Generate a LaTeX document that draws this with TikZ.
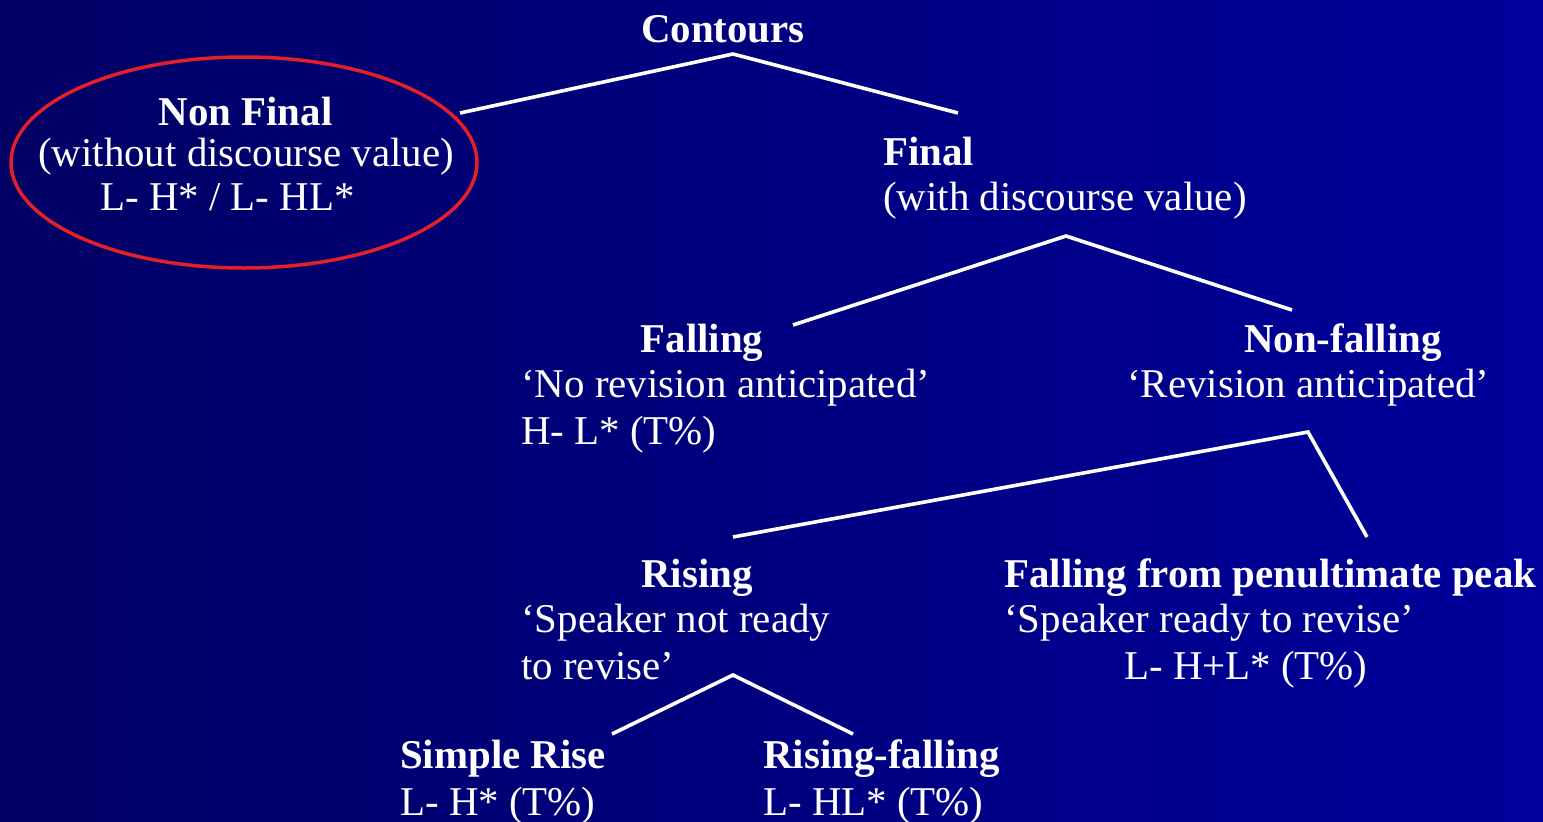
\documentclass[tikz,border=0pt]{standalone}
\usepackage{fontspec}
\setmainfont{Liberation Serif}
\usetikzlibrary{shapes.geometric}
\definecolor{bgleft}{RGB}{0,0,100}
\definecolor{bgright}{RGB}{0,0,155}
\definecolor{ovalred}{RGB}{230,30,40}
\tikzset{
  txt/.style={text=white, inner sep=0pt, font=\fontsize{40.9}{46}\selectfont},
  btxt/.style={txt, font=\fontsize{40.9}{46}\selectfont\bfseries},
  branch/.style={draw=white, line width=3.6pt, line join=miter},
}
\begin{document}
\begin{tikzpicture}[x=1pt,y=-1pt]
\useasboundingbox (0,0) rectangle (1543,822);
\shade[left color=bgleft, right color=bgright] (0,0) rectangle (1543,822);

% oval
\draw[ovalred, line width=3.5pt] (244,162.5) ellipse [x radius=233, y radius=105.5];

% texts
\node[btxt, anchor=base] (contours) at (723,42) {Contours};

\node[btxt, anchor=base] (nonfinal) at (245.5,125) {Non Final};
\node[txt, anchor=base west] (nf2) at (38,166) {(without discourse value)};
\node[txt, anchor=base west] (nf3) at (100,210) {L- H* / L- HL*};

\node[btxt, anchor=base west] (final) at (883,165) {Final};
\node[txt, anchor=base west] (final2) at (883,210) {(with discourse value)};

\node[btxt, anchor=base] (falling) at (702,352) {Falling};
\node[txt, anchor=base west] (falling2) at (521,397) {‘No revision anticipated’};
\node[txt, anchor=base west] (falling3) at (521,444) {H- L* (T\%)};

\node[btxt, anchor=base] (nonfalling) at (1343,352) {Non-falling};
\node[txt, anchor=base west] (nonfalling2) at (1127,397) {‘Revision anticipated’};

\node[btxt, anchor=base] (rising) at (697,587) {Rising};
\node[txt, anchor=base west] (rising2) at (521,632) {‘Speaker not ready};
\node[txt, anchor=base west] (rising3) at (521,679) {to revise’};

\node[btxt, anchor=base west] (ffpp) at (1004,587) {Falling from penultimate peak};
\node[txt, anchor=base west] (ffpp2) at (1004,632) {‘Speaker ready to revise’};
\node[txt, anchor=base west] (ffpp3) at (1124,679) {L- H+L* (T\%)};

\node[btxt, anchor=base west] (simple) at (400,768) {Simple Rise};
\node[txt, anchor=base west] (simple2) at (400,815) {L- H* (T\%)};

\node[btxt, anchor=base west] (risfall) at (763,768) {Rising-falling};
\node[txt, anchor=base west] (risfall2) at (763,815) {L- HL* (T\%)};

% branch points
\coordinate (a1) at (733,54);
\coordinate (a1l) at (460,113);
\coordinate (a1r) at (958,113);
\coordinate (a2) at (1066,236);
\coordinate (a2l) at (793,325);
\coordinate (a2r) at (1292,310);
\coordinate (a3) at (1308,432);
\coordinate (a3l) at (733,537);
\coordinate (a3r) at (1367,537);
\coordinate (a4) at (733,675);
\coordinate (a4l) at (612,734);
\coordinate (a4r) at (853,734);

\draw[branch] (a1l) -- (a1) -- (a1r);
\draw[branch] (a2l) -- (a2) -- (a2r);
\draw[branch] (a3l) -- (a3) -- (a3r);
\draw[branch] (a4l) -- (a4) -- (a4r);
\end{tikzpicture}
\end{document}
